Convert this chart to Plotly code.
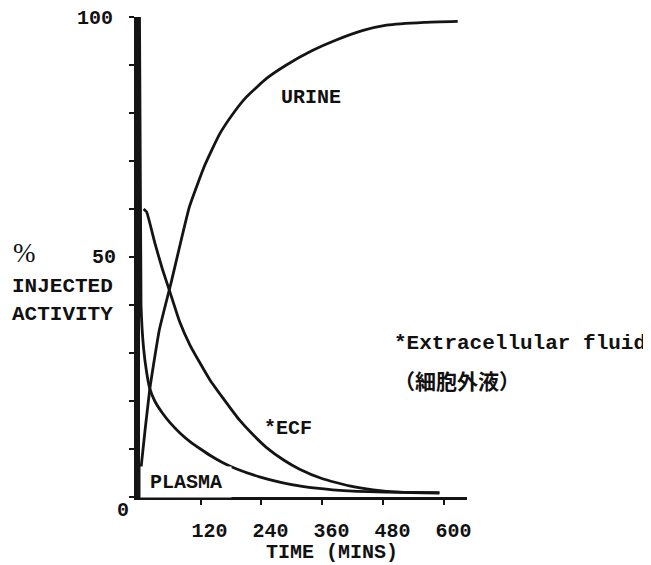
import plotly.graph_objects as go

# ---- data ----
time_plasma = [0, 3, 8, 14, 20, 30, 45, 60, 80, 100, 120, 140, 165, 190, 236, 280, 320, 380, 450, 520, 590]
plasma = [100, 40, 31, 26, 22.7, 20.0, 17.5, 15.5, 13.3, 11.5, 10.0, 8.6, 7.1, 5.9, 4.2, 3.0, 2.2, 1.5, 1.1, 0.95, 0.9]

time_ecf = [8, 14, 30, 45, 59, 79, 100, 138, 165, 197, 225, 250, 285, 315, 360, 413, 460, 512, 590]
ecf = [60.0, 59.4, 53.0, 47.5, 43.0, 36.5, 31.5, 24.5, 20.5, 16.0, 12.8, 10.3, 7.6, 5.8, 3.8, 2.3, 1.5, 1.0, 0.8]

time_urine = [0, 3, 20, 39, 63, 98, 128, 157, 185, 210, 250, 289, 340, 387, 440, 486, 560, 626]
urine = [0, 6, 22.3, 34.8, 45.0, 60.4, 69.0, 75.5, 80.0, 83.3, 87.2, 90.0, 93.0, 95.2, 97.2, 98.3, 98.9, 99.1]

x_tick_vals = [120, 240, 360, 480, 600]
x_tick_text = ["120", "240", "360", "480", "600"]
y_tick_vals = [0, 10, 20, 30, 40, 50, 60, 70, 80, 90, 100]

MONO = "Liberation Mono, Courier New, monospace"
LINE = "#141414"

# the page body has an 8px margin, so the figure is 8px smaller and everything
# below is given in reference-picture pixels
OFF = 8
W, H = 651 - OFF, 565 - OFF
PL, PR, PT, PB = 140, 467, 17, 497          # plot area in reference pixels
L, T = PL - OFF, PT - OFF
R, B = W - (PR - OFF), H - (PB - OFF)
PW, PH = PR - PL, PB - PT


def paper(xp, yp):
    return (xp - PL) / PW, (PB - yp) / PH


fig = go.Figure()
for tx, ty, name in [(time_plasma, plasma, "PLASMA"), (time_ecf, ecf, "ECF"), (time_urine, urine, "URINE")]:
    fig.add_trace(go.Scatter(x=tx, y=ty, mode="lines", name=name,
                             line=dict(color=LINE, width=2.8, shape="spline", smoothing=0.4),
                             showlegend=False, cliponaxis=False))

annos = []


def txt(text, xp, yp, size=20, family=MONO, bold=True, **kw):
    px_, py_ = paper(xp, yp)
    annos.append(dict(text=(f"<b>{text}</b>" if bold else text), x=px_, y=py_,
                      xref="paper", yref="paper", showarrow=False,
                      xanchor="center", yanchor="middle",
                      font=dict(family=family, size=size, color="#111"), **kw))


txt("100", 95, 19)
txt("50", 104, 257)
txt("0", 123, 511)
txt("%", 24, 253, size=27, family="Liberation Serif, DejaVu Serif, serif", bold=False)
txt("INJECTED", 62, 286, size=21)
txt("ACTIVITY", 62, 314, size=21)
txt("URINE", 311, 98, size=20)
txt("*ECF", 288, 428, size=20)
txt("PLASMA", 186, 482, size=20, bgcolor="white", width=86, height=26, borderpad=2)
txt("*Extracellular fluid", 520, 343, size=21)
txt("（細胞外液）", 457, 380, size=21, family="Noto Sans CJK JP")
txt("TIME (MINS)", 332, 552, size=20)

T0_PX = 139.5      # pixel of t = 0
PX_PER_MIN = 0.5083
x_lo = (PL - T0_PX) / PX_PER_MIN
x_hi = (PR - T0_PX) / PX_PER_MIN

fig.update_layout(
    width=W, height=H,
    margin=dict(l=L, r=R, t=T, b=B, pad=0),
    paper_bgcolor="white", plot_bgcolor="white",
    annotations=annos,
    xaxis=dict(range=[x_lo, x_hi], showgrid=False, zeroline=False,
               showline=True, linecolor=LINE, linewidth=3,
               tickvals=x_tick_vals, ticktext=x_tick_text,
               ticks="outside", ticklen=5, tickwidth=2, tickcolor=LINE,
               tickfont=dict(family=MONO, size=20, color="#111", weight="bold"),
               ticklabelshift=9, ticklabelstandoff=8),
    yaxis=dict(range=[0, 100], showgrid=False, zeroline=False,
               showline=True, linecolor=LINE, linewidth=6,
               tickvals=y_tick_vals, showticklabels=False,
               ticks="outside", ticklen=5, tickwidth=2, tickcolor=LINE),
)

fig.write_html("out.html")
